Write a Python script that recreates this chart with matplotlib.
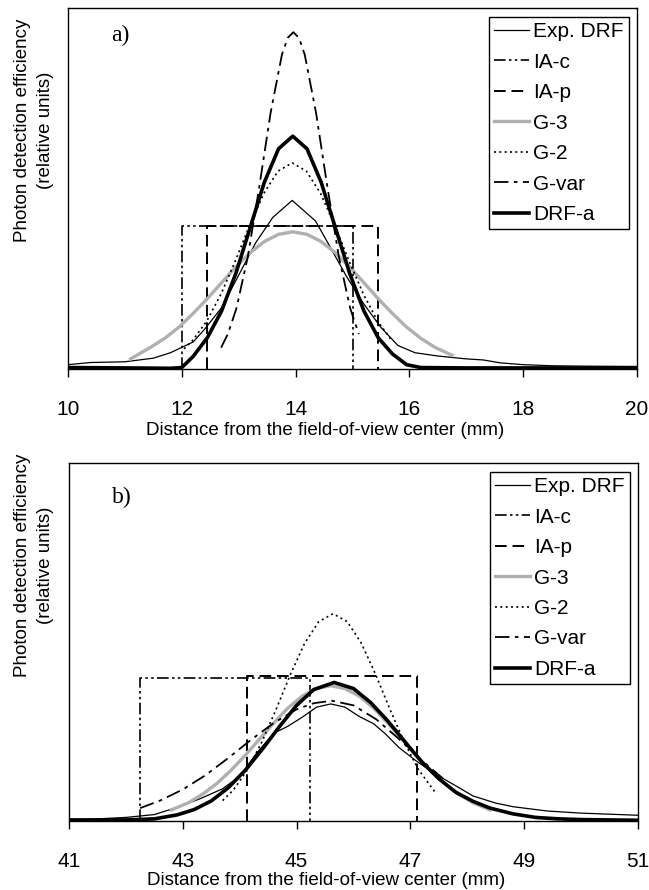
import matplotlib
matplotlib.use('Agg')
import matplotlib.pyplot as plt

plt.rcParams['font.family'] = ['Liberation Sans', 'DejaVu Sans']

# ---------------- panel a) data ----------------
a_exp_x = [10.0, 10.4, 11.0, 11.5, 11.8, 12.0, 12.2, 12.4, 12.7, 13.0, 13.3, 13.6, 13.94, 14.35,
           14.6, 14.9, 15.2, 15.5, 15.8, 16.1, 16.5, 17.0, 17.3, 17.6, 18.0, 18.5, 19.0, 20.0]
a_exp_y = [0.012, 0.018, 0.02, 0.03, 0.045, 0.06, 0.075, 0.11, 0.17, 0.26, 0.35, 0.42, 0.467, 0.41,
           0.34, 0.255, 0.18, 0.115, 0.065, 0.045, 0.036, 0.028, 0.025, 0.017, 0.012, 0.009, 0.008, 0.007]

a_iac_x = [12.0, 12.0, 15.0, 15.0]
a_iac_y = [0.0, 0.395, 0.395, 0.0]
a_iap_x = [12.45, 12.45, 15.45, 15.45]
a_iap_y = [0.0, 0.395, 0.395, 0.0]

a_g3_x = [11.1, 11.45, 11.7, 11.95, 12.2, 12.45, 12.7, 12.95, 13.2, 13.45, 13.7, 13.95,
          14.2, 14.45, 14.7, 14.95, 15.2, 15.45, 15.7, 15.95, 16.2, 16.45, 16.75]
a_g3_y = [0.028, 0.060, 0.085, 0.116, 0.154, 0.195, 0.239, 0.283, 0.322, 0.353, 0.373, 0.380,
          0.373, 0.353, 0.322, 0.283, 0.239, 0.195, 0.154, 0.116, 0.085, 0.060, 0.038]

a_g2_x = [12.04, 12.19, 12.44, 12.69, 12.94, 13.19, 13.44, 13.69, 13.94, 14.19, 14.44, 14.69,
          14.94, 15.19, 15.44, 15.69]
a_g2_y = [0.056, 0.079, 0.133, 0.208, 0.299, 0.397, 0.486, 0.548, 0.571, 0.548, 0.486, 0.397,
          0.299, 0.208, 0.133, 0.079]

a_gvar_x = [12.69, 12.81, 12.96, 13.16, 13.36, 13.56, 13.76, 13.86, 13.96, 14.06, 14.16, 14.36,
            14.56, 14.76, 14.96, 15.11]
a_gvar_y = [0.059, 0.097, 0.168, 0.311, 0.503, 0.709, 0.871, 0.917, 0.933, 0.917, 0.871, 0.709,
            0.503, 0.311, 0.168, 0.097]

a_drf_x = [10.0, 11.0, 11.8, 12.0, 12.2, 12.45, 12.7, 12.95, 13.2, 13.45, 13.7, 13.95, 14.2,
           14.45, 14.7, 14.95, 15.2, 15.45, 15.7, 15.95, 16.2, 17.0, 18.0, 19.0, 20.0]
a_drf_y = [0.004, 0.003, 0.002, 0.004, 0.035, 0.087, 0.161, 0.265, 0.391, 0.517, 0.610, 0.645, 0.610,
           0.517, 0.391, 0.265, 0.161, 0.087, 0.042, 0.012, 0.004, 0.003, 0.003, 0.003, 0.003]

# ---------------- panel b) data ----------------
b_exp_x = [41.0, 41.5, 42.0, 42.5, 42.9, 43.3, 43.7, 44.0, 44.3, 44.6, 44.85, 45.1, 45.35, 45.6,
           45.85, 46.1, 46.35, 46.55, 46.8, 47.1, 47.45, 47.8, 48.1, 48.5, 48.8, 49.4, 50.0, 51.0]
b_exp_y = [0.002, 0.006, 0.010, 0.018, 0.038, 0.062, 0.09, 0.125, 0.19, 0.245, 0.265, 0.29, 0.318, 0.327,
           0.318, 0.292, 0.272, 0.245, 0.205, 0.168, 0.13, 0.098, 0.07, 0.05, 0.04, 0.028, 0.022, 0.016]

b_iac_x = [42.25, 42.25, 45.24, 45.24]
b_iac_y = [0.0, 0.40, 0.40, 0.0]
b_iap_x = [44.13, 44.13, 47.12, 47.12]
b_iap_y = [0.0, 0.405, 0.405, 0.0]

b_g3_x = [42.8, 43.1, 43.35, 43.6, 43.85, 44.1, 44.35, 44.6, 44.85, 45.1, 45.35, 45.6, 45.85,
          46.1, 46.35, 46.6, 46.85, 47.1, 47.35, 47.6, 47.85, 48.1, 48.4]
b_g3_y = [0.031, 0.051, 0.075, 0.105, 0.142, 0.184, 0.229, 0.274, 0.316, 0.349, 0.370, 0.378, 0.370,
          0.349, 0.316, 0.274, 0.229, 0.184, 0.142, 0.105, 0.075, 0.051, 0.031]

b_g2_x = [43.70, 43.89, 44.14, 44.39, 44.64, 44.89, 45.14, 45.39, 45.64, 45.89, 46.14, 46.39,
          46.64, 46.89, 47.14, 47.45]
b_g2_y = [0.057, 0.087, 0.144, 0.221, 0.312, 0.409, 0.496, 0.557, 0.579, 0.557, 0.496, 0.409,
          0.312, 0.221, 0.144, 0.077]

b_gvar_x = [42.25, 42.6, 43.0, 43.4, 43.8, 44.2, 44.6, 45.0, 45.3, 45.62, 46.0, 46.4, 46.8, 47.2, 47.6]
b_gvar_y = [0.036, 0.057, 0.088, 0.128, 0.176, 0.227, 0.274, 0.312, 0.329, 0.336, 0.323, 0.284,
            0.229, 0.169, 0.115]

b_drf_x = [41.0, 41.5, 42.0, 42.5, 42.9, 43.2, 43.5, 43.8, 44.1, 44.4, 44.7, 45.0, 45.3, 45.66,
           46.0, 46.3, 46.6, 46.9, 47.2, 47.5, 47.8, 48.1, 48.4, 48.8, 49.2, 49.6, 50.0, 51.0]
b_drf_y = [0.003, 0.003, 0.003, 0.006, 0.017, 0.032, 0.056, 0.093, 0.142, 0.201, 0.264, 0.323, 0.367,
           0.387, 0.370, 0.331, 0.280, 0.222, 0.165, 0.118, 0.080, 0.055, 0.036, 0.020, 0.010, 0.006,
           0.004, 0.002]

labels = ['Exp. DRF', 'IA-c', 'IA-p', 'G-3', 'G-2', 'G-var', 'DRF-a']

'---------------- styles ----------------'
styles = [
    dict(color='black', lw=0.9, ls='-'),
    dict(color='black', lw=1.2, ls=(0, (7, 2, 1.5, 2, 1.5, 2))),
    dict(color='black', lw=1.4, ls=(0, (6, 3))),
    dict(color='#b0b0b0', lw=2.4, ls='-'),
    dict(color='black', lw=1.2, ls=(0, (1.2, 2))),
    dict(color='black', lw=1.3, ls=(0, (8, 3, 2, 3))),
    dict(color='black', lw=2.6, ls='-'),
]

panels = [
    dict(data=[(a_exp_x, a_exp_y), (a_iac_x, a_iac_y), (a_iap_x, a_iap_y), (a_g3_x, a_g3_y),
               (a_g2_x, a_g2_y), (a_gvar_x, a_gvar_y), (a_drf_x, a_drf_y)],
         xlim=(10, 20), ticks=range(10, 21, 2), tag='a)', rect=[68/649, 1-369/890, 569/649, 361/890],
         ylab_y=1-130/890, tag_y=0.925, xlab_y=-0.148),
    dict(data=[(b_exp_x, b_exp_y), (b_iac_x, b_iac_y), (b_iap_x, b_iap_y), (b_g3_x, b_g3_y),
               (b_g2_x, b_g2_y), (b_gvar_x, b_gvar_y), (b_drf_x, b_drf_y)],
         xlim=(41, 51), ticks=range(41, 52, 2), tag='b)', rect=[69/649, 1-821/890, 569/649, 358/890],
         ylab_y=1-565/890, tag_y=0.905, xlab_y=-0.142),
]

fig = plt.figure(figsize=(6.49, 8.90), dpi=100)

for p in panels:
    ax = fig.add_axes(p['rect'])
    for (x, y), st, lab in zip(p['data'], styles, labels):
        ax.plot(x, y, label=lab, **st)
    ax.set_xlim(*p['xlim'])
    ax.set_ylim(0, 1)
    ax.set_xticks(list(p['ticks']))
    ax.set_yticks([])
    for s in ax.spines.values():
        s.set_linewidth(1.0)
    ax.tick_params(axis='x', direction='out', length=6, width=1, labelsize=15, pad=16.5)
    ax.set_xlabel('Distance from the field-of-view center (mm)', fontsize=13.5)
    ax.xaxis.set_label_coords(0.452, p['xlab_y'])
    ax.text(0.075, p['tag_y'], p['tag'], transform=ax.transAxes, fontsize=17,
            family='Liberation Serif', va='center')
    fig.text(34/649, p['ylab_y'], 'Photon detection efficiency\n(relative units)', rotation=90,
             ha='center', va='center', multialignment='center', fontsize=13.5, linespacing=1.4)
    leg = ax.legend(loc='upper right', bbox_to_anchor=(0.986, 0.975), borderaxespad=0,
                    fontsize=15, fancybox=False, framealpha=1, edgecolor='black',
                    handlelength=1.7, handletextpad=0.2, borderpad=0.25, labelspacing=0.55)
    leg.get_frame().set_linewidth(1.0)

fig.savefig('out.png', dpi=100)
